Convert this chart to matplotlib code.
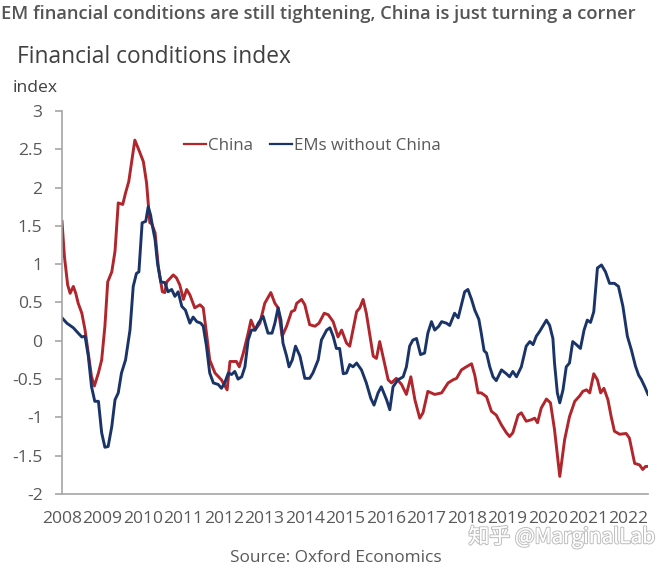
import matplotlib
matplotlib.use("Agg")
import matplotlib.pyplot as plt
import matplotlib.patheffects as pe

# values (decimal year, index)
china_t = [2008.0, 2008.06, 2008.14, 2008.20, 2008.28, 2008.34, 2008.40, 2008.49, 2008.57, 2008.65,
           2008.73, 2008.80, 2008.90, 2008.98, 2009.06, 2009.13, 2009.23, 2009.31, 2009.39, 2009.50,
           2009.57, 2009.65, 2009.80, 2009.90, 2010.01, 2010.09, 2010.17, 2010.21, 2010.30, 2010.38,
           2010.48, 2010.54, 2010.59, 2010.75, 2010.83, 2010.91, 2011.00, 2011.08, 2011.16, 2011.28,
           2011.41, 2011.49, 2011.57, 2011.65, 2011.78, 2011.94, 2012.08, 2012.15, 2012.31, 2012.38,
           2012.48, 2012.60, 2012.67, 2012.77, 2012.89, 2013.01, 2013.16, 2013.26, 2013.34, 2013.44,
           2013.55, 2013.67, 2013.75, 2013.80, 2013.92, 2014.00, 2014.12, 2014.25, 2014.35, 2014.48,
           2014.58, 2014.70, 2014.82, 2014.91, 2015.03, 2015.11, 2015.28, 2015.36, 2015.44, 2015.52,
           2015.60, 2015.69, 2015.77, 2015.85, 2015.93, 2016.06, 2016.14, 2016.26, 2016.39, 2016.51,
           2016.62, 2016.72, 2016.84, 2016.92, 2017.04, 2017.21, 2017.38, 2017.54, 2017.66, 2017.75,
           2017.87, 2017.99, 2018.12, 2018.20, 2018.28, 2018.36, 2018.49, 2018.61, 2018.73, 2018.86,
           2018.98, 2019.06, 2019.14, 2019.27, 2019.35, 2019.47, 2019.60, 2019.68, 2019.75, 2019.84,
           2019.97, 2020.07, 2020.17, 2020.30, 2020.42, 2020.54, 2020.67, 2020.79, 2020.87, 2020.96,
           2021.04, 2021.14, 2021.23, 2021.31, 2021.39, 2021.49, 2021.57, 2021.65, 2021.78, 2021.94,
           2022.02, 2022.15, 2022.27, 2022.35, 2022.42, 2022.48]
china_v = [1.56, 1.10, 0.73, 0.62, 0.71, 0.62, 0.49, 0.36, 0.14, -0.16,
           -0.47, -0.59, -0.42, -0.25, 0.19, 0.77, 0.90, 1.17, 1.80, 1.78,
           1.93, 2.08, 2.62, 2.49, 2.34, 2.06, 1.54, 1.54, 1.41, 0.97,
           0.64, 0.63, 0.77, 0.86, 0.82, 0.73, 0.54, 0.67, 0.60, 0.43,
           0.47, 0.43, 0.10, -0.25, -0.42, -0.51, -0.64, -0.27, -0.27, -0.34,
           -0.16, 0.10, 0.27, 0.14, 0.23, 0.49, 0.63, 0.49, 0.43, 0.06,
           0.19, 0.38, 0.40, 0.49, 0.54, 0.47, 0.21, 0.19, 0.23, 0.36,
           0.34, 0.25, 0.05, 0.14, -0.03, -0.07, 0.38, 0.43, 0.54, 0.36,
           0.10, -0.20, -0.23, -0.01, -0.20, -0.51, -0.55, -0.49, -0.57, -0.70,
           -0.47, -0.77, -1.01, -0.94, -0.66, -0.70, -0.68, -0.55, -0.51, -0.49,
           -0.38, -0.34, -0.30, -0.45, -0.68, -0.68, -0.73, -0.92, -0.97, -1.10,
           -1.20, -1.25, -1.20, -0.97, -0.94, -1.05, -1.03, -1.01, -1.07, -0.88,
           -0.76, -0.81, -1.16, -1.77, -1.29, -0.99, -0.79, -0.72, -0.66, -0.64,
           -0.68, -0.43, -0.51, -0.68, -0.62, -0.77, -0.99, -1.18, -1.22, -1.21,
           -1.27, -1.60, -1.62, -1.68, -1.64, -1.64]

em_t = [2008.0, 2008.12, 2008.28, 2008.40, 2008.49, 2008.57, 2008.65, 2008.73, 2008.81, 2008.90,
        2008.98, 2009.06, 2009.14, 2009.23, 2009.31, 2009.39, 2009.47, 2009.57, 2009.68, 2009.76,
        2009.84, 2009.90, 2009.98, 2010.07, 2010.13, 2010.19, 2010.23, 2010.30, 2010.36, 2010.44,
        2010.54, 2010.62, 2010.71, 2010.79, 2010.87, 2010.96, 2011.05, 2011.16, 2011.24, 2011.33,
        2011.43, 2011.49, 2011.57, 2011.65, 2011.74, 2011.86, 2011.94, 2012.02, 2012.11, 2012.19,
        2012.27, 2012.35, 2012.44, 2012.52, 2012.60, 2012.68, 2012.77, 2012.85, 2012.97, 2013.09,
        2013.19, 2013.26, 2013.34, 2013.41, 2013.46, 2013.55, 2013.61, 2013.69, 2013.77, 2013.88,
        2014.00, 2014.12, 2014.20, 2014.33, 2014.41, 2014.54, 2014.62, 2014.70, 2014.78, 2014.86,
        2014.95, 2015.03, 2015.11, 2015.19, 2015.28, 2015.40, 2015.52, 2015.63, 2015.71, 2015.81,
        2015.89, 2016.02, 2016.10, 2016.18, 2016.30, 2016.43, 2016.51, 2016.59, 2016.67, 2016.76,
        2016.86, 2016.96, 2017.04, 2017.13, 2017.21, 2017.31, 2017.38, 2017.50, 2017.58, 2017.70,
        2017.79, 2017.87, 2017.95, 2018.03, 2018.12, 2018.20, 2018.30, 2018.36, 2018.43, 2018.49,
        2018.57, 2018.65, 2018.73, 2018.86, 2018.98, 2019.06, 2019.14, 2019.23, 2019.35, 2019.47,
        2019.56, 2019.64, 2019.72, 2019.80, 2019.88, 2019.97, 2020.05, 2020.13, 2020.17, 2020.24,
        2020.30, 2020.38, 2020.46, 2020.54, 2020.62, 2020.71, 2020.81, 2020.90, 2020.98, 2021.06,
        2021.14, 2021.23, 2021.33, 2021.43, 2021.53, 2021.65, 2021.75, 2021.86, 2021.97, 2022.07,
        2022.17, 2022.25, 2022.31, 2022.40, 2022.48]
em_v = [0.30, 0.23, 0.17, 0.10, 0.05, 0.06, -0.20, -0.60, -0.79, -0.79,
        -1.20, -1.39, -1.38, -1.12, -0.77, -0.68, -0.42, -0.25, 0.14, 0.71,
        0.88, 0.90, 1.54, 1.56, 1.75, 1.64, 1.51, 1.32, 1.01, 0.77,
        0.76, 0.64, 0.67, 0.58, 0.64, 0.45, 0.40, 0.23, 0.31, 0.25,
        0.23, 0.19, -0.07, -0.42, -0.55, -0.57, -0.62, -0.55, -0.42, -0.44,
        -0.40, -0.50, -0.47, -0.34, 0.01, 0.14, 0.14, 0.23, 0.32, 0.10,
        0.10, 0.23, 0.43, 0.27, -0.03, -0.20, -0.34, -0.25, -0.07, -0.20,
        -0.49, -0.49, -0.42, -0.25, 0.01, 0.14, 0.17, 0.06, -0.10, -0.10,
        -0.43, -0.42, -0.31, -0.34, -0.29, -0.38, -0.55, -0.75, -0.84, -0.68,
        -0.60, -0.77, -0.90, -0.60, -0.51, -0.47, -0.34, -0.07, 0.01, 0.03,
        -0.18, -0.16, 0.10, 0.25, 0.14, 0.19, 0.25, 0.23, 0.20, 0.36,
        0.30, 0.47, 0.64, 0.67, 0.54, 0.40, 0.28, 0.10, -0.13, -0.16,
        -0.34, -0.47, -0.52, -0.38, -0.43, -0.47, -0.40, -0.47, -0.34, -0.07,
        -0.01, -0.05, 0.06, 0.12, 0.19, 0.27, 0.20, 0.03, -0.29, -0.68,
        -0.81, -0.64, -0.34, -0.29, -0.01, -0.05, -0.10, 0.14, 0.27, 0.24,
        0.38, 0.95, 0.99, 0.90, 0.75, 0.75, 0.71, 0.45, 0.06, -0.12,
        -0.33, -0.45, -0.50, -0.60, -0.70]

years = list(range(2008, 2023))
yticks = [-2, -1.5, -1, -0.5, 0, 0.5, 1, 1.5, 2, 2.5, 3]
ytick_labels = ['-2', '-1.5', '-1', '-0.5', '0', '0.5', '1', '1.5', '2', '2.5', '3']

red = '#B0262C'
navy = '#1B3468'
grey_txt = '#595959'
axis_grey = '#A6A6A6'

plt.rcParams['font.family'] = ['Open Sans', 'DejaVu Sans']

fig = plt.figure(figsize=(6.69, 5.66), dpi=100)
ax = fig.add_axes([62 / 669, 72 / 566, 586 / 669, 383 / 566])

ax.plot(china_t, china_v, color=red, lw=2.1, label='China', solid_joinstyle='round')
ax.plot(em_t, em_v, color=navy, lw=2.1, label='EMs without China', solid_joinstyle='round')

ax.set_xlim(2008, 2022.48)
ax.set_ylim(-2, 3)
ax.set_yticks(yticks)
ax.set_yticklabels(ytick_labels)
ax.set_xticks(years)
ax.set_xticklabels([str(y) for y in years])

for s in ['top', 'right']:
    ax.spines[s].set_visible(False)
for s in ['left', 'bottom']:
    ax.spines[s].set_color(axis_grey)
    ax.spines[s].set_linewidth(1.2)
ax.tick_params(axis='y', colors=axis_grey, labelcolor=grey_txt, length=5, width=1.2,
               labelsize=12.6, pad=9)
ax.tick_params(axis='x', length=0, labelcolor=grey_txt, labelsize=12.6, pad=12)

leg = ax.legend(loc='upper center', bbox_to_anchor=(0.427, 0.97), ncol=2, frameon=False,
                fontsize=12.2, handlelength=1.3, handletextpad=0.1, columnspacing=1.0,
                labelcolor=grey_txt)
for h in leg.get_lines():
    h.set_linewidth(1.6)

fig.text(0.002, 0.975, 'EM financial conditions are still tightening, China is just turning a corner',
         fontsize=13.2, color='#555555', va='center', ha='left', fontweight='semibold')
fig.text(17 / 669, 1 - 57 / 566, 'Financial conditions index', fontsize=16.4,
         color='#404040', va='center', ha='left')
fig.text(13 / 669, 1 - 88 / 566, 'index', fontsize=12.6, color='#404040', va='center', ha='left')
fig.text(336 / 669, 1 - 558 / 566, 'Source: Oxford Economics', fontsize=12.4,
         color=grey_txt, va='center', ha='center')

wm = fig.text(562 / 669, 1 - 537 / 566, '知乎 @MarginalLab', fontsize=15,
              family=['Noto Sans CJK SC', 'DejaVu Sans'], color='white',
              va='center', ha='center', alpha=0.9)
wm.set_path_effects([pe.withStroke(linewidth=1.6, foreground='#b8b8b8'), pe.Normal()])

fig.savefig('out.png', dpi=100)
